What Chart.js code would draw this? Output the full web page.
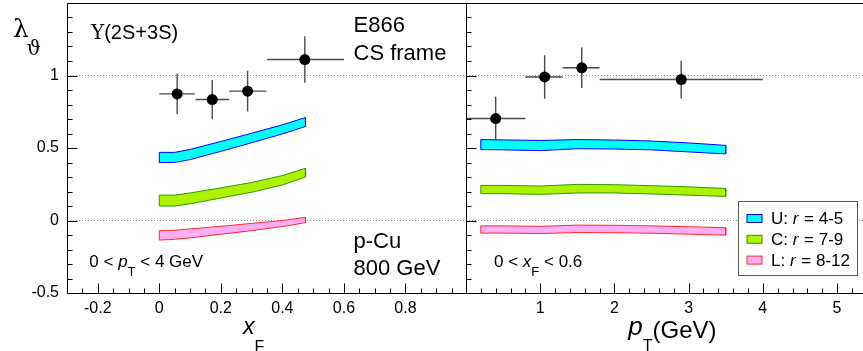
<!DOCTYPE html>
<html>
<head>
<meta charset="utf-8">
<script src="https://cdn.jsdelivr.net/npm/chart.js@4.4.0/dist/chart.umd.min.js"></script>
<style>
  html, body { margin: 0; padding: 0; background: #fff; }
  #wrap { position: relative; width: 863px; height: 351px; overflow: hidden; }
  #left { position: absolute; left: 0; top: 0; width: 467px; height: 351px; }
  #right { position: absolute; left: 466px; top: 0; width: 397px; height: 351px; }
</style>
</head>
<body>
<div id="wrap">
  <canvas id="left" width="467" height="351"></canvas>
  <canvas id="right" width="397" height="351"></canvas>
</div>
<script>
'use strict';

// axis ranges and tick labels
var xfMin = -0.3, xfMax = 1.0;
var ptMin = 0, ptMax = 5.35;
var lamMin = -0.5, lamMax = 1.5;
var xfTickLabels = [-0.2, 0, 0.2, 0.4, 0.6, 0.8];
var ptTickLabels = [1, 2, 3, 4, 5];
var lamTickLabels = [-0.5, 0, 0.5, 1];
var refLines = [0, 1];

// E866 data vs xF
var xfCenter = [0.058, 0.172, 0.287, 0.473];
var xfLow = [0.0, 0.118, 0.227, 0.35];
var xfHigh = [0.115, 0.227, 0.348, 0.6];
var xfLambda = [0.873, 0.834, 0.892, 1.11];
var xfErr = [0.14, 0.135, 0.14, 0.16];

// E866 data vs pT
var ptCenter = [0.4, 1.06, 1.56, 2.9];
var ptLow = [0.0, 0.8, 1.3, 1.8];
var ptHigh = [0.8, 1.3, 1.8, 4.0];
var ptLambda = [0.703, 0.99, 1.053, 0.972];
var ptErr = [0.15, 0.15, 0.14, 0.13];

// model bands vs xF
var bandXf = [0.0, 0.05, 0.1, 0.2, 0.3, 0.4, 0.475];
var uXfHi = [0.47, 0.47, 0.49, 0.545, 0.602, 0.66, 0.71];
var uXfLo = [0.40, 0.40, 0.42, 0.477, 0.536, 0.597, 0.648];
var cXfHi = [0.175, 0.175, 0.19, 0.225, 0.262, 0.31, 0.36];
var cXfLo = [0.10, 0.10, 0.115, 0.155, 0.195, 0.245, 0.30];
var lXfHi = [-0.07, -0.067, -0.058, -0.04, -0.02, 0.0, 0.022];
var lXfLo = [-0.135, -0.13, -0.12, -0.095, -0.07, -0.042, -0.015];

// model bands vs pT
var bandPt = [0.2, 0.5, 1.0, 1.5, 2.0, 2.5, 3.0, 3.5];
var uPtHi = [0.558, 0.556, 0.552, 0.558, 0.555, 0.548, 0.535, 0.518];
var uPtLo = [0.489, 0.487, 0.482, 0.495, 0.493, 0.487, 0.473, 0.459];
var cPtHi = [0.242, 0.242, 0.238, 0.249, 0.247, 0.24, 0.232, 0.221];
var cPtLo = [0.185, 0.185, 0.18, 0.19, 0.19, 0.183, 0.175, 0.166];
var lPtHi = [-0.037, -0.037, -0.04, -0.032, -0.033, -0.037, -0.043, -0.05];
var lPtLo = [-0.087, -0.087, -0.09, -0.083, -0.084, -0.088, -0.094, -0.101];

var bandStyles = [
  {label: 'U', fill: '#00ffff', line: '#0000ff'},
  {label: 'C', fill: '#adf200', line: '#2a9a00'},
  {label: 'L', fill: '#ffadf5', line: '#ff2a2a'}
];

var SANS = '"Liberation Sans", Arial, Helvetica, sans-serif';
var SERIF = '"DejaVu Serif", "Liberation Serif", serif';

var bandPolygon = function (xs, lo, hi) {
  var pts = [];
  for (var i = 0; i < xs.length; i++) pts.push({x: xs[i], y: hi[i]});
  for (var j = xs.length - 1; j >= 0; j--) pts.push({x: xs[j], y: lo[j]});
  pts.push({x: xs[0], y: hi[0]});
  return pts;
};

var errorSegments = function (xc, xlo, xhi, y, err) {
  var pts = [];
  for (var i = 0; i < xc.length; i++) {
    pts.push({x: xlo[i], y: y[i]}, {x: xhi[i], y: y[i]}, {x: null, y: null});
    pts.push({x: xc[i], y: y[i] - err[i]}, {x: xc[i], y: y[i] + err[i]}, {x: null, y: null});
  }
  return pts;
};

var buildDatasets = function (xc, xlo, xhi, y, err, bx, bands, xmin, xmax) {
  var sets = [];
  // first dataset ends up on top
  sets.push({
    data: xc.map(function (v, i) { return {x: v, y: y[i]}; }),
    backgroundColor: '#000', borderColor: '#000',
    pointRadius: 5.5, pointBorderWidth: 0, showLine: false
  });
  sets.push({
    data: errorSegments(xc, xlo, xhi, y, err),
    borderColor: '#4a4a4a', borderWidth: 1.4,
    pointRadius: 0, showLine: true, spanGaps: false
  });
  bands.forEach(function (b, i) {
    sets.push({
      data: bandPolygon(bx, b[0], b[1]),
      showLine: true, pointRadius: 0, tension: 0,
      fill: 'shape',
      backgroundColor: bandStyles[i].fill,
      borderColor: bandStyles[i].line,
      borderWidth: 1, borderJoinStyle: 'miter'
    });
  });
  refLines.forEach(function (v) {
    sets.push({
      data: [{x: xmin, y: v}, {x: xmax, y: v}],
      showLine: true, pointRadius: 0,
      borderColor: '#8a8a8a', borderWidth: 1, borderDash: [1, 2]
    });
  });
  return sets;
};

// frame and inward ROOT style tick marks
var framePlugin = {
  id: 'frame',
  afterDatasetsDraw: function (chart, args, opts) {
    var ctx = chart.ctx, a = chart.chartArea;
    var xs = chart.scales.x, ys = chart.scales.y;
    var l = Math.round(a.left) + 0.5, r = Math.round(a.right) - 0.5;
    var t = Math.round(a.top) + 0.5, b = Math.round(a.bottom) + 0.5;
    ctx.save();
    ctx.strokeStyle = '#000';
    ctx.lineWidth = 1;
    ctx.beginPath();
    ctx.moveTo(l, b); ctx.lineTo(l, t); ctx.lineTo(r + 1, t);
    if (opts.closeRight) { ctx.moveTo(r, t); ctx.lineTo(r, b); }
    ctx.moveTo(l, b); ctx.lineTo(r + 1, b);
    var i, v, p, major;
    for (i = Math.ceil(xs.min / opts.xMinor - 1e-6); i * opts.xMinor <= xs.max + 1e-9; i++) {
      v = i * opts.xMinor;
      major = Math.abs(v / opts.xMajor - Math.round(v / opts.xMajor)) < 1e-6;
      p = Math.round(xs.getPixelForValue(v)) + 0.5;
      ctx.moveTo(p, b); ctx.lineTo(p, b - (major ? 10 : 5));
    }
    for (i = Math.ceil(ys.min / 0.1 - 1e-6); i * 0.1 <= ys.max + 1e-9; i++) {
      v = i * 0.1;
      major = Math.abs(v / 0.5 - Math.round(v / 0.5)) < 1e-6;
      p = Math.round(ys.getPixelForValue(v)) + 0.5;
      ctx.moveTo(l, p); ctx.lineTo(l + (major ? 10 : 5), p);
    }
    ctx.stroke();
    ctx.restore();
  }
};

var drawRich = function (ctx, x, y, parts) {
  parts.forEach(function (p) {
    ctx.font = p[1];
    ctx.fillText(p[0], x, y + (p[2] || 0));
    x += ctx.measureText(p[0]).width + (p[3] || 0);
  });
};

var textPlugin = {
  id: 'labels',
  afterDraw: function (chart, args, opts) {
    var ctx = chart.ctx;
    ctx.save();
    ctx.fillStyle = '#000';
    ctx.textBaseline = 'alphabetic';
    ctx.textAlign = 'left';
    opts.items.forEach(function (it) {
      drawRich(ctx, it.x - opts.offset, it.y, it.parts);
    });
    if (opts.legend) {
      var lg = opts.legend, ox = lg.x - opts.offset;
      ctx.fillStyle = '#fff';
      ctx.fillRect(ox, lg.y, lg.w, lg.h);
      ctx.strokeStyle = '#555';
      ctx.lineWidth = 1;
      ctx.strokeRect(ox + 0.5, lg.y + 0.5, lg.w, lg.h);
      lg.rows.forEach(function (row, i) {
        var yy = lg.y + 13.5 + i * 20.8;
        ctx.fillStyle = bandStyles[i].fill;
        ctx.fillRect(ox + 9, yy, 15, 8);
        ctx.strokeStyle = bandStyles[i].line;
        ctx.strokeRect(ox + 9, yy, 15, 8);
        ctx.fillStyle = '#000';
        drawRich(ctx, ox + 33, yy + 9.5, [
          [row[0] + ': ', '17px ' + SANS],
          ['r', 'italic 17px ' + SANS, 0, 1],
          [' = ' + row[1], '17px ' + SANS]
        ]);
      });
    }
    ctx.restore();
  }
};

var makeOptions = function (xmin, xmax, xLabels, showY, frame, labels) {
  return {
    responsive: false,
    animation: false,
    events: [],
    layout: {autoPadding: false, padding: {left: 0, right: 0, top: 3, bottom: 0}},
    scales: {
      x: {
        type: 'linear', min: xmin, max: xmax,
        afterBuildTicks: function (scale) {
          scale.ticks = xLabels.map(function (v) { return {value: v}; });
        },
        afterFit: function (scale) {
          scale.height = 58;
          scale.paddingLeft = 0; scale.paddingRight = 0;
          scale.paddingTop = 0; scale.paddingBottom = 0;
        },
        grid: {display: false, drawTicks: false},
        border: {display: false},
        ticks: {
          padding: 6, color: '#000', maxRotation: 0, autoSkip: false,
          font: {family: SANS, size: 16},
          callback: function (v) { return String(v); }
        }
      },
      y: {
        type: 'linear', min: lamMin, max: lamMax, display: showY,
        afterBuildTicks: function (scale) {
          scale.ticks = lamTickLabels.map(function (v) { return {value: v}; });
        },
        afterFit: function (scale) {
          scale.width = showY ? 67 : 0;
          scale.paddingLeft = 0; scale.paddingRight = 0;
          scale.paddingTop = 0; scale.paddingBottom = 0;
        },
        grid: {display: false, drawTicks: false},
        border: {display: false},
        ticks: {
          padding: 8, color: '#000',
          font: {family: SANS, size: 16},
          callback: function (v) { return String(v); }
        }
      }
    },
    plugins: {
      legend: {display: false},
      tooltip: {enabled: false},
      frame: frame,
      labels: labels
    }
  };
};

var leftText = [
  {x: 13, y: 37, parts: [['λ', '25px ' + SERIF]]},
  {x: 26.5, y: 54.5, parts: [['ϑ', '20px ' + SERIF]]},
  {x: 91, y: 38.5, parts: [['Υ', '20px ' + SERIF], ['(2S+3S)', '20px ' + SANS]]},
  {x: 353.5, y: 32.3, parts: [['E866', '22px ' + SANS]]},
  {x: 353.5, y: 60, parts: [['CS frame', '22px ' + SANS]]},
  {x: 353.5, y: 247.5, parts: [['p-Cu', '22px ' + SANS]]},
  {x: 353.5, y: 275, parts: [['800 GeV', '22px ' + SANS]]},
  {x: 89.3, y: 266.7, parts: [['0 < ', '17px ' + SANS], ['p', 'italic 17px ' + SANS], ['T', '13px ' + SANS, 9.3], [' < 4 GeV', '17px ' + SANS]]},
  {x: 243, y: 333.5, parts: [['x', 'italic 23px ' + SANS], ['F', '16px ' + SANS, 18]]}
];

var rightText = [
  {x: 494, y: 266.7, parts: [['0 < ', '17px ' + SANS], ['x', 'italic 17px ' + SANS], ['F', '13px ' + SANS, 9.3], [' < 0.6', '17px ' + SANS]]},
  {x: 628.3, y: 335, parts: [['p', 'italic 26px ' + SANS], ['T', '16px ' + SANS, 16.3], ['(GeV)', '24px ' + SANS, 3]]}
];

new Chart(document.getElementById('left').getContext('2d'), {
  type: 'scatter',
  data: {
    datasets: buildDatasets(xfCenter, xfLow, xfHigh, xfLambda, xfErr, bandXf,
      [[uXfLo, uXfHi], [cXfLo, cXfHi], [lXfLo, lXfHi]], xfMin, xfMax)
  },
  options: makeOptions(xfMin, xfMax, xfTickLabels, true,
    {closeRight: true, xMinor: 0.05, xMajor: 0.2},
    {offset: 0, items: leftText}),
  plugins: [framePlugin, textPlugin]
});

new Chart(document.getElementById('right').getContext('2d'), {
  type: 'scatter',
  data: {
    datasets: buildDatasets(ptCenter, ptLow, ptHigh, ptLambda, ptErr, bandPt,
      [[uPtLo, uPtHi], [cPtLo, cPtHi], [lPtLo, lPtHi]], ptMin, ptMax)
  },
  options: makeOptions(ptMin, ptMax, ptTickLabels, false,
    {closeRight: false, xMinor: 0.2, xMajor: 1},
    {
      offset: 466, items: rightText,
      legend: {x: 738, y: 201, w: 119, h: 74, rows: [['U', '4-5'], ['C', '7-9'], ['L', '8-12']]}
    }),
  plugins: [framePlugin, textPlugin]
});
</script>
</body>
</html>
